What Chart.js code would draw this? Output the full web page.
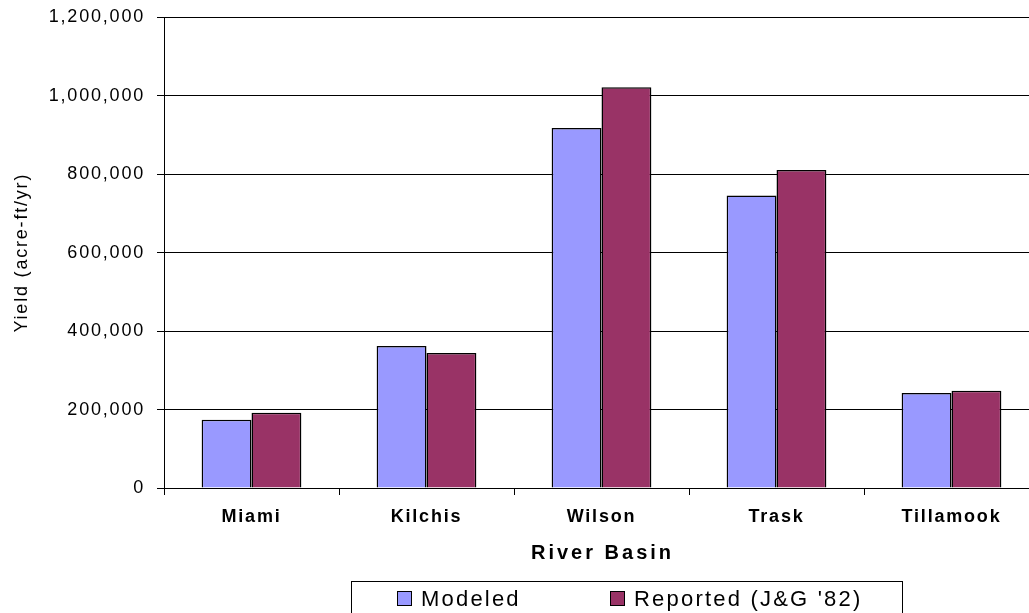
<!DOCTYPE html>
<html>
<head>
<meta charset="utf-8">
<script src="https://cdn.jsdelivr.net/npm/chart.js@4/dist/chart.umd.min.js"></script>
<style>
  html, body { margin: 0; padding: 0; background: #fff; overflow: hidden; }
  #wrap { width: 1029px; height: 613px; overflow: hidden; }
  canvas { display: block; }
</style>
</head>
<body>
<div id="wrap"><canvas id="yieldChart" width="1045" height="613"></canvas></div>
<script>
var basins = ['Miami', 'Kilchis', 'Wilson', 'Trask', 'Tillamook'];
var modeled = [174000, 362000, 918000, 746000, 242000];
var reported = [192000, 344000, 1022000, 811000, 248000];
var yTicks = [0, 200000, 400000, 600000, 800000, 1000000, 1200000];

var seriesNames = ['Modeled', "Reported (J&G '82)"];
var seriesColors = ['#9999ff', '#993366'];

(function(){
  var fontFamily = '"Liberation Sans", Arial, sans-serif';

  // Excel-style wide text: apply letter spacing to everything the chart draws
  var spacingPlugin = {
    id: 'spacing',
    beforeDraw: function(chart){
      chart.ctx.letterSpacing = '1.8px';
    }
  };

  // x axis title, centred under the plot area
  var basinTitlePlugin = {
    id: 'basinTitle',
    afterDraw: function(chart){
      var ctx = chart.ctx;
      var area = chart.chartArea;
      ctx.save();
      ctx.letterSpacing = '3px';
      ctx.font = 'bold 20px ' + fontFamily;
      ctx.fillStyle = '#000';
      ctx.textAlign = 'center';
      ctx.textBaseline = 'alphabetic';
      ctx.fillText('River Basin', (area.left + area.right) / 2 + 1, 559);
      ctx.restore();
    }
  };

  // boxed legend at the bottom
  var boxLegendPlugin = {
    id: 'boxLegend',
    afterDraw: function(chart){
      var ctx = chart.ctx;
      var itemX = [397, 610];
      ctx.save();
      ctx.strokeStyle = '#000';
      ctx.lineWidth = 1;
      ctx.strokeRect(351.5, 581.5, 551, 32);
      ctx.font = '22px ' + fontFamily;
      ctx.letterSpacing = '2.2px';
      ctx.textBaseline = 'alphabetic';
      ctx.textAlign = 'left';
      chart.data.datasets.forEach(function(ds, i){
        var x = itemX[i];
        ctx.fillStyle = ds.backgroundColor;
        ctx.fillRect(x + 0.5, 591.5, 14, 14);
        ctx.strokeRect(x + 0.5, 591.5, 14, 14);
        ctx.fillStyle = '#000';
        ctx.fillText(ds.label, x + 24, 606);
      });
      ctx.restore();
    }
  };

  var el = document.getElementById('yieldChart');
  new Chart(el.getContext('2d'), {
    type: 'bar',
    data: {
      labels: basins,
      datasets: [
        {
          label: seriesNames[0],
          data: modeled,
          backgroundColor: seriesColors[0],
          borderColor: '#000',
          borderWidth: 1.5
        },
        {
          label: seriesNames[1],
          data: reported,
          backgroundColor: seriesColors[1],
          borderColor: '#000',
          borderWidth: 1.5
        }
      ]
    },
    options: {
      responsive: false,
      animation: false,
      devicePixelRatio: 1,
      layout: { padding: { left: 0, right: 6, top: 16, bottom: 0 } },
      categoryPercentage: 0.57,
      barPercentage: 1,
      scales: {
        x: {
          afterFit: function(scale){ scale.height = 125; },
          grid: {
            display: true,
            drawOnChartArea: false,
            drawTicks: true,
            tickLength: 7,
            offset: true,
            color: '#000'
          },
          border: { display: true, color: '#000', width: 1 },
          ticks: {
            color: '#000',
            padding: 11,
            autoSkip: false,
            maxRotation: 0,
            font: { family: fontFamily, size: 18, weight: 'bold' }
          }
        },
        y: {
          min: 0,
          max: yTicks[yTicks.length - 1],
          afterFit: function(scale){ scale.width = 164; },
          afterBuildTicks: function(scale){
            scale.ticks = yTicks.map(function(v){ return { value: v }; });
          },
          grid: {
            color: '#000',
            lineWidth: 1,
            drawTicks: true,
            tickLength: 7
          },
          border: { display: true, color: '#000', width: 1 },
          ticks: {
            color: '#000',
            padding: 12,
            font: { family: fontFamily, size: 18, lineHeight: 0.6 },
            callback: function(v){ return Number(v).toLocaleString('en-US'); }
          },
          title: {
            display: true,
            text: 'Yield (acre-ft/yr)',
            color: '#000',
            padding: { top: 11, bottom: 0 },
            font: { family: fontFamily, size: 18 }
          }
        }
      },
      plugins: {
        legend: { display: false },
        tooltip: { enabled: false }
      }
    },
    plugins: [spacingPlugin, basinTitlePlugin, boxLegendPlugin]
  });
})();
</script>
</body>
</html>
